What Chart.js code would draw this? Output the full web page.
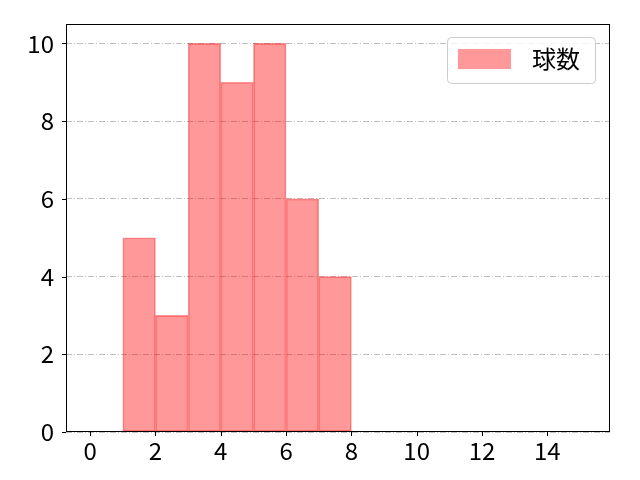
<!DOCTYPE html>
<html><head><meta charset="utf-8">
<script src="https://cdn.jsdelivr.net/npm/chart.js@4.4.0/dist/chart.umd.min.js"></script>
<style>html,body{margin:0;padding:0;background:#fff}#w{width:640px;height:480px}</style>
</head><body><div id="w"><canvas id="c" width="640" height="480"></canvas></div>
<script>
const binCenters = [1.5, 2.5, 3.5, 4.5, 5.5, 6.5, 7.5];
const counts = [5, 3, 10, 9, 10, 6, 4];
const xTicks = [0, 2, 4, 6, 8, 10, 12, 14];
const yTicks = [0, 2, 4, 6, 8, 10];
const seriesLabel = '球数';

const FONT = '"Noto Sans CJK JP", "DejaVu Sans", sans-serif';

const framePlugin = {
  id: 'frame',
  afterDraw(chart) {
    const ctx = chart.ctx, a = chart.chartArea;
    const xs = chart.scales.x, ys = chart.scales.y;
    ctx.save();
    ctx.strokeStyle = '#000';
    ctx.lineWidth = 1;
    ctx.strokeRect(a.left + 0.5, a.top + 0.5, a.right - a.left - 1, a.bottom - a.top - 1);
    ctx.beginPath();
    xTicks.forEach(v => { const p = Math.round(xs.getPixelForValue(v)) + 0.5; ctx.moveTo(p, a.bottom); ctx.lineTo(p, a.bottom + 4); });
    yTicks.forEach(v => { const p = Math.round(ys.getPixelForValue(v)) + 0.5; ctx.moveTo(a.left, p); ctx.lineTo(a.left - 4, p); });
    ctx.stroke();
    // legend
    const lx = 447.5, ly = 37.5, lw = 148, lh = 46, r = 4;
    ctx.fillStyle = 'rgba(255,255,255,0.8)';
    ctx.strokeStyle = '#cccccc';
    ctx.beginPath();
    ctx.moveTo(lx + r, ly); ctx.lineTo(lx + lw - r, ly); ctx.quadraticCurveTo(lx + lw, ly, lx + lw, ly + r);
    ctx.lineTo(lx + lw, ly + lh - r); ctx.quadraticCurveTo(lx + lw, ly + lh, lx + lw - r, ly + lh);
    ctx.lineTo(lx + r, ly + lh); ctx.quadraticCurveTo(lx, ly + lh, lx, ly + lh - r);
    ctx.lineTo(lx, ly + r); ctx.quadraticCurveTo(lx, ly, lx + r, ly);
    ctx.closePath(); ctx.fill(); ctx.stroke();
    ctx.fillStyle = 'rgba(255,0,0,0.4)';
    ctx.fillRect(458, 49, 53, 20);
    ctx.fillStyle = '#000';
    ctx.font = '24px ' + FONT;
    ctx.textBaseline = 'middle';
    ctx.textAlign = 'left';
    ctx.fillText(chart.data.datasets[0].label, 532, 59);
    ctx.restore();
  }
};

new Chart(document.getElementById('c'), {
  type: 'bar',
  data: {
    datasets: [{
      label: seriesLabel,
      data: binCenters.map((x, i) => ({ x: x, y: counts[i] })),
      backgroundColor: 'rgba(255,0,0,0.4)',
      borderColor: 'rgba(240,0,0,0.4)',
      borderWidth: 1,
      borderSkipped: false,
      barPercentage: 1,
      categoryPercentage: 1
    }]
  },
  options: {
    responsive: false,
    animation: false,
    devicePixelRatio: 1,
    layout: { padding: { left: 0, right: 30, top: 24, bottom: 0 } },
    plugins: { legend: { display: false }, tooltip: { enabled: false } },
    scales: {
      x: {
        type: 'linear', min: -0.74, max: 15.92, offset: false,
        afterBuildTicks(s) { s.ticks = xTicks.map(v => ({ value: v })); },
        afterFit(s) { s.height = 48; s.paddingLeft = 0; s.paddingRight = 0; },
        grid: { display: false, drawTicks: false },
        border: { display: false },
        ticks: { color: '#000', font: { family: FONT, size: 24 }, padding: 4, maxRotation: 0, autoSkip: false }
      },
      y: {
        min: 0, max: 10.5,
        afterBuildTicks(s) { s.ticks = yTicks.map(v => ({ value: v })); },
        afterFit(s) { s.width = 66; s.paddingTop = 0; s.paddingBottom = 0; },
        grid: { color: '#b0b0b0', lineWidth: 0.8, drawTicks: false, tickLength: 0 },
        border: { display: false, dash: [6, 2, 1, 2] },
        ticks: { color: '#000', font: { family: FONT, size: 24 }, padding: 12 }
      }
    }
  },
  plugins: [framePlugin]
});
</script>
</body></html>
